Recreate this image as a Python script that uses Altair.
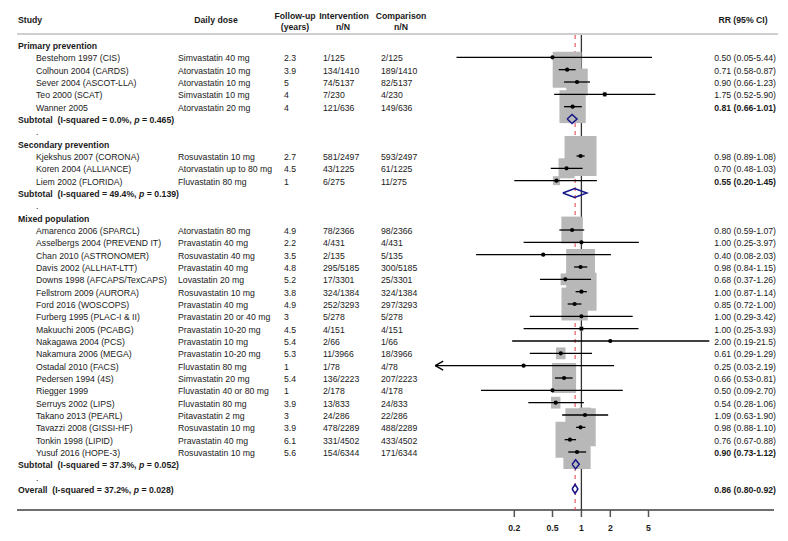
import altair as alt
import pandas as pd

OFF = 8  # page margin
FONT = "Liberation Sans"
FS = 8.7
TXT = "#1a1a1a"

# ---------------- data ----------------
group_names = ["Primary prevention", "Secondary prevention", "Mixed population"]
study_group = [0] * 5 + [1] * 3 + [2] * 19
studies = ["Bestehorn 1997 (CIS)", "Colhoun 2004 (CARDS)", "Sever 2004 (ASCOT-LLA)", "Teo 2000 (SCAT)", "Wanner 2005",
           "Kjekshus 2007 (CORONA)", "Koren 2004 (ALLIANCE)", "Liem 2002 (FLORIDA)",
           "Amarenco 2006 (SPARCL)", "Asselbergs 2004 (PREVEND IT)", "Chan 2010 (ASTRONOMER)", "Davis 2002 (ALLHAT-LTT)",
           "Downs 1998 (AFCAPS/TexCAPS)", "Fellstrom 2009 (AURORA)", "Ford 2016 (WOSCOPS)", "Furberg 1995 (PLAC-I & II)",
           "Makuuchi 2005 (PCABG)", "Nakagawa 2004 (PCS)", "Nakamura 2006 (MEGA)", "Ostadal 2010 (FACS)",
           "Pedersen 1994 (4S)", "Riegger 1999", "Serruys 2002 (LIPS)", "Takano 2013 (PEARL)",
           "Tavazzi 2008 (GISSI-HF)", "Tonkin 1998 (LIPID)", "Yusuf 2016 (HOPE-3)"]
doses = ["Simvastatin 40 mg", "Atorvastatin 10 mg", "Atorvastatin 10 mg", "Simvastatin 10 mg", "Atorvastatin 20 mg",
         "Rosuvastatin 10 mg", "Atorvastatin up to 80 mg", "Fluvastatin 80 mg",
         "Atorvastatin 80 mg", "Pravastatin 40 mg", "Rosuvastatin 40 mg", "Pravastatin 40 mg",
         "Lovastatin 20 mg", "Rosuvastatin 10 mg", "Pravastatin 40 mg", "Pravastatin 20 or 40 mg",
         "Pravastatin 10-20 mg", "Pravastatin 10 mg", "Pravastatin 10-20 mg", "Fluvastatin 80 mg",
         "Simvastatin 20 mg", "Fluvastatin 40 or 80 mg", "Fluvastatin 80 mg", "Pitavastatin 2 mg",
         "Rosuvastatin 10 mg", "Pravastatin 40 mg", "Rosuvastatin 10 mg"]
followup = ["2.3", "3.9", "5", "4", "4", "2.7", "4.5", "1", "4.9", "2.2", "3.5", "4.8", "5.2", "3.8", "4.9", "3",
            "4.5", "5.4", "5.3", "1", "5.4", "1", "3.9", "3", "3.9", "6.1", "5.6"]
intervention = ["1/125", "134/1410", "74/5137", "7/230", "121/636", "581/2497", "43/1225", "6/275", "78/2366",
                "4/431", "2/135", "295/5185", "17/3301", "324/1384", "252/3293", "5/278", "4/151", "2/66",
                "11/3966", "1/78", "136/2223", "2/178", "13/833", "24/286", "478/2289", "331/4502", "154/6344"]
comparison = ["2/125", "189/1410", "82/5137", "4/230", "149/636", "593/2497", "61/1225", "11/275", "98/2366",
              "4/431", "5/135", "300/5185", "25/3301", "324/1384", "297/3293", "5/278", "4/151", "1/66",
              "18/3966", "4/78", "207/2223", "4/178", "24/833", "22/286", "488/2289", "433/4502", "171/6344"]
rr = [0.50, 0.71, 0.90, 1.75, 0.81, 0.98, 0.70, 0.55, 0.80, 1.00, 0.40, 0.98, 0.68, 1.00, 0.85, 1.00, 1.00,
      2.00, 0.61, 0.25, 0.66, 0.50, 0.54, 1.09, 0.98, 0.76, 0.90]
ci_lo = [0.05, 0.58, 0.66, 0.52, 0.66, 0.89, 0.48, 0.20, 0.59, 0.25, 0.08, 0.84, 0.37, 0.87, 0.72, 0.29, 0.25,
         0.19, 0.29, 0.03, 0.53, 0.09, 0.28, 0.63, 0.88, 0.67, 0.73]
ci_hi = [5.44, 0.87, 1.23, 5.90, 1.01, 1.08, 1.03, 1.45, 1.07, 3.97, 2.03, 1.15, 1.26, 1.14, 1.00, 3.42, 3.93,
         21.5, 1.29, 2.19, 0.81, 2.70, 1.06, 1.90, 1.10, 0.88, 1.12]
weight = [0.05, 6.5, 3.6, 0.13, 5.4, 8.0, 2.0, 0.4, 3.6, 0.08, 0.05, 6.5, 0.7, 7.2, 5.4, 0.13, 0.13, 0.05, 0.7,
          0.02, 4.5, 0.05, 0.7, 1.1, 7.2, 6.5, 5.8]

sub_i2 = ["0.0%", "49.4%", "37.3%"]
sub_p = ["0.465", "0.139", "0.052"]
sub_est = [0.80, 0.85, 0.87]
sub_lo = [0.71, 0.64, 0.80]
sub_hi = [0.90, 1.14, 0.95]
overall_i2, overall_p = "37.2%", "0.028"
overall_est, overall_lo, overall_hi = 0.86, 0.80, 0.92
tick_values = [0.2, 0.5, 1, 2, 5]
tick_labels = ["0.2", "0.5", "1", "2", "5"]

# ---------------- row layout ----------------
def fmt(v):
    return f"{v:.1f}" if v >= 10 else f"{v:.2f}"

study_rows, header_rows, dot_rows, summary = [], [], [], []
r = 0
for g, gname in enumerate(group_names):
    header_rows.append({"row": r, "label": gname})
    r += 1
    idx = [i for i, sg in enumerate(study_group) if sg == g]
    for j, i in enumerate(idx):
        study_rows.append({"row": r, "study": studies[i], "dose": doses[i], "fu": followup[i],
                           "iv": intervention[i], "cp": comparison[i], "rr": rr[i], "lo": ci_lo[i],
                           "hi": ci_hi[i], "w": weight[i],
                           "rrtext": f"{fmt(rr[i])} ({fmt(ci_lo[i])}-{fmt(ci_hi[i])})",
                           "bold": j == len(idx) - 1})
        r += 1
    summary.append({"row": r, "name": "Subtotal", "i2": sub_i2[g], "p": sub_p[g],
                    "est": sub_est[g], "lo": sub_lo[g], "hi": sub_hi[g]})
    r += 1
    dot_rows.append({"row": r, "label": "."})
    r += 1
summary.append({"row": r, "name": "Overall", "i2": overall_i2, "p": overall_p,
                "est": overall_est, "lo": overall_lo, "hi": overall_hi})
NROW = r

sdf = pd.DataFrame(study_rows)
hdf = pd.DataFrame(header_rows)
ddf = pd.DataFrame(dot_rows)

# Arial-bold advance widths for positioning the italic "p"
AB = {**{d: 556 for d in "0123456789"}, " ": 278, "\u00a0": 278, "(": 333, ")": 333, "%": 889, ",": 278,
      "-": 333, ".": 278, "=": 584, "I": 278, "O": 778, "S": 667, "a": 556, "b": 611, "d": 611, "e": 556,
      "l": 278, "o": 611, "p": 611, "q": 611, "r": 389, "s": 556, "t": 333, "u": 611, "v": 556}


def tw(s):
    return sum(AB.get(c, 600) for c in s) * FS / 1000


LX = 18 - OFF
sum_txt = []
for s in summary:
    pre = f"{s['name']}\u00a0 (I-squared = {s['i2']}, "
    xp = LX + tw(pre)
    sum_txt.append({"row": s["row"], "t": pre, "px": LX, "it": False})
    sum_txt.append({"row": s["row"], "t": "p", "px": xp, "it": True})
    sum_txt.append({"row": s["row"], "t": f"= {s['p']})", "px": xp + tw("p "), "it": False})
stdf = pd.DataFrame(sum_txt)

DH = 0.37
dia = []
for k, s in enumerate(summary):
    for o, (xv, yv) in enumerate([(s["lo"], 0), (s["est"], -DH), (s["hi"], 0), (s["est"], DH), (s["lo"], 0)]):
        dia.append({"sid": k, "o": o, "x": xv, "y": s["row"] + yv})
diadf = pd.DataFrame(dia)
tdf = pd.DataFrame({"t": tick_values, "lab": tick_labels})

# ---------------- scales ----------------
xs = alt.Scale(type="log", domain=[0.2, 5], range=[514.3 - OFF, 648.5 - OFF], nice=False)
ys = alt.Scale(type="linear", domain=[0, NROW], range=[45 - OFF, 489 - OFF], nice=False, zero=False)
Y = alt.Y("row:Q", scale=ys, axis=None)

layers = []

# header texts
hdr = pd.DataFrame([
    {"t": "Study", "x": 18, "y": 19, "a": "left"},
    {"t": "Daily dose", "x": 216, "y": 19, "a": "center"},
    {"t": "Follow-up", "x": 295, "y": 15, "a": "center"},
    {"t": "(years)", "x": 295, "y": 26, "a": "center"},
    {"t": "Intervention", "x": 344, "y": 15, "a": "center"},
    {"t": "n/N", "x": 343, "y": 26, "a": "center"},
    {"t": "Comparison", "x": 401, "y": 15, "a": "center"},
    {"t": "n/N", "x": 401, "y": 26, "a": "center"},
    {"t": "RR (95% CI)", "x": 743, "y": 19, "a": "center"},
])
hdr["x"] -= OFF
hdr["y"] -= OFF
for a in ["left", "center"]:
    layers.append(alt.Chart(hdr[hdr.a == a]).mark_text(align=a, baseline="middle", font=FONT, fontSize=FS,
                                                       fontWeight="bold", color=TXT, dy=1)
                  .encode(x=alt.X("x:Q", scale=None), y=alt.Y("y:Q", scale=None), text="t:N"))

# header rule and bottom line
layers.append(alt.Chart(pd.DataFrame({"k": [0]})).mark_rule(color="#cfcfcf", strokeWidth=2)
              .encode(x=alt.value(17 - OFF), x2=alt.value(778 - OFF), y=alt.value(34 - OFF)))
layers.append(alt.Chart(pd.DataFrame({"k": [0]})).mark_rule(color="#6e6e6e", strokeWidth=2)
              .encode(x=alt.value(17 - OFF), x2=alt.value(774 - OFF), y=alt.value(510 - OFF)))

# reference lines
layers.append(alt.Chart(pd.DataFrame({"x": [1.0]})).mark_rule(color="#333333", strokeWidth=1.3)
              .encode(x=alt.X("x:Q", scale=xs, axis=None), y=alt.value(35 - OFF), y2=alt.value(510 - OFF)))
layers.append(alt.Chart(pd.DataFrame({"x": [overall_est]})).mark_rule(color="#e23a48", strokeWidth=1,
                                                                       strokeDash=[4, 4])
              .encode(x=alt.X("x:Q", scale=xs, axis=None), y=alt.value(35 - OFF), y2=alt.value(510 - OFF)))

# weight boxes
layers.append(alt.Chart(sdf).mark_point(shape="M-0.8,-1L0.8,-1L0.8,1L-0.8,1Z", filled=True, color="#b8b8b8",
                                        opacity=1, strokeWidth=0)
              .encode(x=alt.X("rr:Q", scale=xs, axis=None), y=Y,
                      size=alt.Size("w:Q", scale=alt.Scale(type="linear", domain=[0, 8], range=[0, 1600]),
                                    legend=None)))
# CI lines
layers.append(alt.Chart(sdf).mark_rule(color="black", strokeWidth=1.3)
              .encode(x=alt.X("lo:Q", scale=xs, axis=None), x2="hi:Q", y=Y))
# truncated-CI arrow
layers.append(alt.Chart(sdf[sdf.lo <= 0.03]).mark_point(shape="M0,0L1.6,-0.9M0,0L1.6,0.9", filled=False,
                                                         size=100, color="black", strokeWidth=1.3, opacity=1)
              .encode(x=alt.X("lo:Q", scale=xs, axis=None), y=Y))
# point estimates
layers.append(alt.Chart(sdf).mark_circle(size=18, color="black", opacity=1)
              .encode(x=alt.X("rr:Q", scale=xs, axis=None), y=Y))
# diamonds
layers.append(alt.Chart(diadf).mark_line(color="#15158a", strokeWidth=1.5)
              .encode(x=alt.X("x:Q", scale=xs, axis=None), y=alt.Y("y:Q", scale=ys, axis=None),
                      detail="sid:N", order="o:Q"))

# axis ticks and labels (drawn through the x scale)
layers.append(alt.Chart(tdf).mark_rule(color="#555555", strokeWidth=1.5)
              .encode(x=alt.X("t:Q", scale=xs, axis=None), y=alt.value(510 - OFF), y2=alt.value(517 - OFF)))
layers.append(alt.Chart(tdf).mark_text(align="center", baseline="middle", font=FONT, fontSize=FS,
                                       fontWeight="bold", color=TXT)
              .encode(x=alt.X("t:Q", scale=xs, axis=None), y=alt.value(528 - OFF), text="lab:N"))


def txt(df, field, x, align="left", weight="normal", style="normal"):
    return (alt.Chart(df).mark_text(align=align, baseline="middle", font=FONT, fontSize=FS, fontWeight=weight,
                                    fontStyle=style, color=TXT, dy=1)
            .encode(x=alt.value(x - OFF), y=Y, text=f"{field}:N"))


layers.append(txt(hdf, "label", 18, weight="bold"))
layers.append(txt(ddf, "label", 36))
layers.append(txt(sdf, "study", 36))
layers.append(txt(sdf, "dose", 178))
layers.append(txt(sdf, "fu", 284))
layers.append(txt(sdf, "iv", 323))
layers.append(txt(sdf, "cp", 381))
layers.append(txt(sdf[~sdf.bold], "rrtext", 776, align="right"))
layers.append(txt(sdf[sdf.bold], "rrtext", 776, align="right", weight="bold"))
overall_df = pd.DataFrame([{"row": NROW, "t": f"{fmt(overall_est)} ({fmt(overall_lo)}-{fmt(overall_hi)})"}])
layers.append(txt(overall_df, "t", 776, align="right", weight="bold"))
for it in [False, True]:
    layers.append(alt.Chart(stdf[stdf.it == it]).mark_text(align="left", baseline="middle", font=FONT, fontSize=FS,
                                                         fontWeight="bold", dy=1,
                                                         fontStyle="italic" if it else "normal", color=TXT)
                  .encode(x=alt.X("px:Q", scale=None), y=Y, text="t:N"))

chart = (alt.layer(*layers)
         .properties(width=772, height=502, autosize=alt.AutoSizeParams(type="none"),
                     padding={"left": 0, "top": 0, "right": 0, "bottom": 30}, background="white")
         .configure_view(stroke=None))

chart.save("out.html", embed_options={"renderer": "svg", "actions": False})
